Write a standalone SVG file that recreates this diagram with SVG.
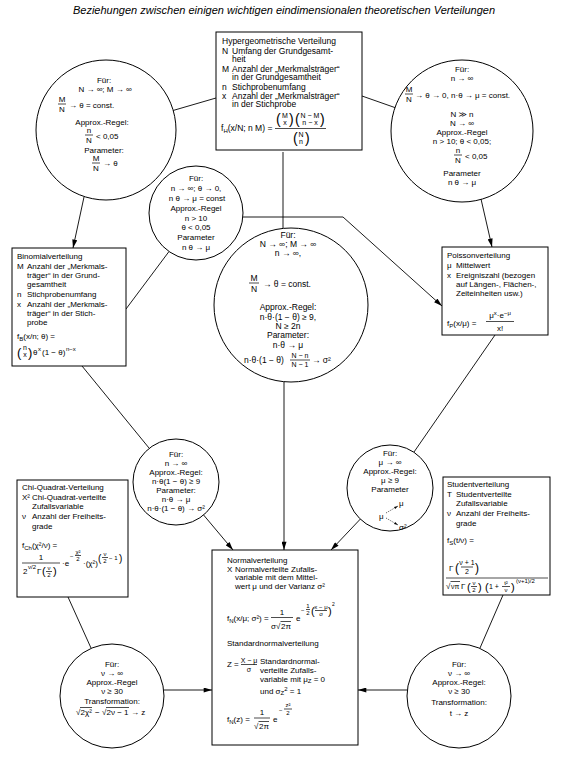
<svg xmlns="http://www.w3.org/2000/svg" width="566" height="768" viewBox="0 0 566 768">
<defs>
<style>
text{font-family:"Liberation Sans",Arial,"DejaVu Sans",sans-serif;font-size:8px;fill:#000}
.h{font-size:8.5px}
.c{text-anchor:middle}
.f{font-size:7px}
.g{font-size:6px}
.p{font-size:14px}
.ttl{font-size:11px;font-style:italic}
.box{fill:#fff;stroke:#000;stroke-width:1}
.circ{fill:#fff;stroke:#000;stroke-width:1}
.e{fill:none;stroke:#000;stroke-width:0.9}
.bar{stroke:#000;stroke-width:0.7}
.dot{stroke:#000;stroke-width:0.7;stroke-dasharray:1 1.2;fill:none}
</style>
<marker id="a" viewBox="0 0 10 6" refX="10" refY="3" markerWidth="9" markerHeight="5" markerUnits="userSpaceOnUse" orient="auto"><path d="M0,0 L10,3 L0,6 z" fill="#000"/></marker>
<marker id="s" viewBox="0 0 10 6" refX="10" refY="3" markerWidth="4" markerHeight="3" markerUnits="userSpaceOnUse" orient="auto"><path d="M0,0 L10,3 L0,6 z" fill="#000"/></marker>
</defs>
<rect width="566" height="768" fill="#fff"/>
<text class="ttl c" x="284" y="14">Beziehungen zwischen einigen wichtigen eindimensionalen theoretischen Verteilungen</text>

<g id="connectors">
<line class="e" x1="216" y1="98" x2="173" y2="110.5"/>
<line class="e" x1="362" y1="96" x2="395" y2="107.6"/>
<line class="e" x1="84" y1="197" x2="73" y2="248" marker-end="url(#a)"/>
<line class="e" x1="481" y1="199" x2="492" y2="247" marker-end="url(#a)"/>
<line class="e" x1="283" y1="152" x2="283" y2="228.5"/>
<polyline class="e" points="243,217 343,217 442,306" marker-end="url(#a)"/>
<line class="e" x1="126" y1="309" x2="169" y2="251.5"/>
<line class="e" x1="82" y1="366" x2="149" y2="448"/>
<line class="e" x1="203.6" y1="515" x2="233" y2="550" marker-end="url(#a)"/>
<line class="e" x1="284" y1="381.5" x2="284" y2="550" marker-end="url(#a)"/>
<line class="e" x1="495" y1="335" x2="414" y2="452"/>
<line class="e" x1="360.4" y1="519" x2="331" y2="550" marker-end="url(#a)"/>
<line class="e" x1="68" y1="597" x2="91" y2="648"/>
<line class="e" x1="164" y1="690" x2="212" y2="690" marker-end="url(#a)"/>
<line class="e" x1="503" y1="595" x2="480" y2="648"/>
<line class="e" x1="407" y1="690" x2="358" y2="690" marker-end="url(#a)"/>
</g>

<g id="hypergeometrisch">
<rect class="box" x="216" y="32" width="146" height="118"/>
<text class="h" x="222" y="44">Hypergeometrische Verteilung</text>
<text class="h" x="222" y="53.5">N</text><text class="h" x="232" y="53.5">Umfang der Grundgesamt-</text>
<text class="h" x="232" y="62">heit</text>
<text class="h" x="222" y="71.5">M</text><text class="h" x="232" y="71.5">Anzahl der „Merkmalsträger“</text>
<text class="h" x="232" y="80">in der Grundgesamtheit</text>
<text class="h" x="222" y="89.5">n</text><text class="h" x="232" y="89.5">Stichprobenumfang</text>
<text class="h" x="222" y="98.5">x</text><text class="h" x="232" y="98.5">Anzahl der „Merkmalsträger“</text>
<text class="h" x="232" y="107">in der Stichprobe</text>
<text class="h" x="221" y="131">f<tspan class="g" dy="2">H</tspan><tspan dy="-2">(x/N; n M) =</tspan></text>
<text class="p" x="276" y="124">(</text>
<text class="f c" x="285" y="118">M</text><text class="f c" x="285" y="125">x</text>
<text class="p" x="289" y="124">)</text>
<text class="p" x="295" y="124">(</text>
<text class="f c" x="310" y="118">N − M</text><text class="f c" x="310" y="125">n − x</text>
<text class="p" x="320" y="124">)</text>
<line class="bar" x1="275" y1="128.5" x2="326" y2="128.5"/>
<text class="p" x="293" y="143">(</text>
<text class="f c" x="301" y="137">N</text><text class="f c" x="301" y="144">n</text>
<text class="p" x="305" y="143">)</text>
</g>

<g id="kreis-hyper-binomial">
<circle class="circ" cx="106" cy="130" r="70"/>
<text class="c" x="104" y="83">Für:</text>
<text class="c" x="105" y="92">N → ∞; M → ∞</text>
<text class="c" x="62" y="102">M</text>
<line class="bar" x1="58" y1="104" x2="66" y2="104"/>
<text class="c" x="62" y="112">N</text>
<text x="69" y="108">→ θ = const.</text>
<text class="c" x="102" y="125">Approx.-Regel:</text>
<text class="c" x="89" y="133">n</text>
<line class="bar" x1="85" y1="135" x2="93" y2="135"/>
<text class="c" x="89" y="143">N</text>
<text x="96" y="139">&lt; 0,05</text>
<text class="c" x="104" y="153">Parameter:</text>
<text class="c" x="96" y="161">M</text>
<line class="bar" x1="92" y1="163" x2="100" y2="163"/>
<text class="c" x="96" y="171">N</text>
<text x="103" y="166">→ θ</text>
</g>

<g id="kreis-hyper-poisson">
<circle class="circ" cx="462" cy="131" r="71"/>
<text class="c" x="462" y="72">Für:</text>
<text class="c" x="462" y="81">n → ∞</text>
<text class="c" x="409" y="92">M</text>
<line class="bar" x1="405" y1="94" x2="413" y2="94"/>
<text class="c" x="409" y="102">N</text>
<text x="415" y="98">→ θ → 0, n·θ → μ = const.</text>
<text class="c" x="462" y="117">N ≫ n</text>
<text class="c" x="462" y="126">N → ∞</text>
<text class="c" x="462" y="135">Approx.-Regel</text>
<text class="c" x="462" y="144">n &gt; 10; θ &lt; 0,05;</text>
<text class="c" x="458" y="153">n</text>
<line class="bar" x1="454" y1="155" x2="462" y2="155"/>
<text class="c" x="458" y="163">N</text>
<text x="465" y="159">&lt; 0,05</text>
<text class="c" x="462" y="176">Parameter</text>
<text class="c" x="462" y="185">n θ → μ</text>
</g>

<g id="kreis-binomial-poisson">
<circle class="circ" cx="196" cy="213" r="47"/>
<text class="c" x="196" y="181">Für:</text>
<text class="c" x="196" y="191">n → ∞; θ → 0,</text>
<text class="c" x="197" y="201">n θ → μ = const</text>
<text class="c" x="196" y="211">Approx.-Regel</text>
<text class="c" x="196" y="221">n &gt; 10</text>
<text class="c" x="196" y="230">θ &lt; 0,05</text>
<text class="c" x="196" y="240">Parameter</text>
<text class="c" x="196" y="250">n θ → μ</text>
</g>

<g id="kreis-hyper-normal">
<circle class="circ" cx="291" cy="305" r="77"/>
<text class="h c" x="288" y="238">Für:</text>
<text class="h c" x="288" y="247">N → ∞; M → ∞</text>
<text class="h c" x="288" y="256">n → ∞,</text>
<text class="h c" x="254" y="281">M</text>
<line class="bar" x1="249" y1="283" x2="259" y2="283"/>
<text class="h c" x="254" y="292">N</text>
<text class="h" x="263" y="287">→ θ = const.</text>
<text class="h c" x="288" y="310">Approx.-Regel:</text>
<text class="h c" x="288" y="320">n·θ·(1 − θ) ≥ 9,</text>
<text class="h c" x="288" y="329">N ≥ 2n</text>
<text class="h c" x="288" y="338">Parameter:</text>
<text class="h c" x="288" y="348">n·θ → μ</text>
<text class="h" x="244" y="363">n·θ·(1 − θ)</text>
<text class="f c" x="300" y="358">N − n</text>
<line class="bar" x1="290" y1="360" x2="310" y2="360"/>
<text class="f c" x="300" y="367">N − 1</text>
<text class="h" x="312" y="363">→ σ²</text>
</g>

<g id="binomial">
<rect class="box" x="12" y="248" width="114" height="118"/>
<text x="17" y="259">Binomialverteilung</text>
<text x="17" y="269">M</text><text x="27" y="269">Anzahl der „Merkmals-</text>
<text x="27" y="278">träger“ in der Grund-</text>
<text x="27" y="287">gesamtheit</text>
<text x="17" y="297">n</text><text x="27" y="297">Stichprobenumfang</text>
<text x="17" y="307">x</text><text x="27" y="307">Anzahl der „Merkmals-</text>
<text x="27" y="316">träger“ in der Stich-</text>
<text x="27" y="325">probe</text>
<text x="17" y="339">f<tspan class="g" dy="2">B</tspan><tspan dy="-2">(x/n; θ) =</tspan></text>
<text style="font-size:13px" x="17" y="357">(</text>
<text class="f c" x="25" y="350">n</text><text class="f c" x="25" y="357">x</text>
<text style="font-size:13px" x="28" y="357">)</text>
<text x="33" y="355">θ</text><text class="g" x="38" y="351">x</text>
<text x="42" y="355">(1 − θ)</text><text class="g" x="66" y="351">n−x</text>
</g>

<g id="poisson">
<rect class="box" x="442" y="247" width="106" height="88"/>
<text x="447" y="258">Poissonverteilung</text>
<text x="447" y="268">μ</text><text x="456" y="268">Mittelwert</text>
<text x="447" y="278">x</text><text x="456" y="278">Ereigniszahl (bezogen</text>
<text x="456" y="287">auf Längen-, Flächen-,</text>
<text x="456" y="296">Zeiteinheiten usw.)</text>
<text x="447" y="326">f<tspan class="g" dy="2">P</tspan><tspan dy="-2">(x/μ) =</tspan></text>
<text class="c" x="500" y="318">μ<tspan class="g" dy="-3">x</tspan><tspan dy="3">·e</tspan><tspan class="g" dy="-3">−μ</tspan></text>
<line class="bar" x1="486" y1="321.5" x2="514" y2="321.5"/>
<text class="c" x="500" y="331">x!</text>
</g>

<g id="kreis-binomial-normal">
<circle class="circ" cx="176" cy="482" r="43"/>
<text class="c" x="176" y="457">Für:</text>
<text class="c" x="176" y="466">n → ∞</text>
<text class="c" x="176" y="475">Approx.-Regel:</text>
<text class="c" x="176" y="484">n·θ(1 − θ) ≥ 9</text>
<text class="c" x="176" y="493">Parameter:</text>
<text class="c" x="176" y="502">n·θ → μ</text>
<text class="c" x="176" y="511">n·θ·(1 − θ) → σ²</text>
</g>

<g id="kreis-poisson-normal">
<circle class="circ" cx="390" cy="488" r="43"/>
<text class="c" x="390" y="456">Für:</text>
<text class="c" x="390" y="465">μ → ∞</text>
<text class="c" x="390" y="474">Approx.-Regel:</text>
<text class="c" x="390" y="483">μ ≥ 9</text>
<text class="c" x="390" y="492">Parameter</text>
<text x="379" y="519">μ</text>
<line class="dot" x1="386" y1="513" x2="398" y2="506" marker-end="url(#s)"/>
<line class="dot" x1="386" y1="518" x2="398" y2="525" marker-end="url(#s)"/>
<text x="399" y="506">μ</text>
<text x="399" y="530">σ²</text>
</g>

<g id="chi-quadrat">
<rect class="box" x="17" y="480" width="111" height="117"/>
<text x="22" y="490">Chi-Quadrat-Verteilung</text>
<text x="22" y="500">X²</text><text x="32" y="500">Chi-Quadrat-verteilte</text>
<text x="32" y="509">Zufallsvariable</text>
<text x="22" y="519">ν</text><text x="32" y="519">Anzahl der Freiheits-</text>
<text x="32" y="529">grade</text>
<text x="22" y="548">f<tspan class="g" dy="2">Ch</tspan><tspan dy="-2">(χ²/ν) =</tspan></text>
<text class="c" x="41" y="560">1</text>
<line class="bar" x1="22" y1="563" x2="60" y2="563"/>
<text x="23" y="574">2</text><text class="g" x="28" y="569">ν/2</text>
<text x="37" y="574">Γ</text>
<text style="font-size:11px" x="42" y="575">(</text>
<text class="g c" x="49" y="570">ν</text>
<line class="bar" x1="46" y1="571.5" x2="52" y2="571.5"/>
<text class="g c" x="49" y="577">2</text>
<text style="font-size:11px" x="53" y="575">)</text>
<text x="62" y="566">·e</text>
<text class="g" x="70" y="558">−</text>
<text class="g c" x="78" y="554">χ²</text>
<line class="bar" x1="75" y1="555.5" x2="81" y2="555.5"/>
<text class="g c" x="78" y="561">2</text>
<text x="83" y="566">·(χ²)</text>
<text style="font-size:10px" x="98" y="562">(</text>
<text class="g c" x="105" y="556">ν</text>
<line class="bar" x1="102" y1="557.5" x2="108" y2="557.5"/>
<text class="g c" x="105" y="563">2</text>
<text class="g" x="109" y="560">− 1</text>
<text style="font-size:10px" x="119" y="562">)</text>
</g>

<g id="student">
<rect class="box" x="443" y="477" width="107" height="118"/>
<text x="447" y="487">Studentverteilung</text>
<text x="447" y="497">T</text><text x="456" y="497">Studentverteilte</text>
<text x="456" y="506">Zufallsvariable</text>
<text x="447" y="516">ν</text><text x="456" y="516">Anzahl der Freiheits-</text>
<text x="456" y="526">grade</text>
<text x="447" y="543">f<tspan class="g" dy="2">S</tspan><tspan dy="-2">(t/ν) =</tspan></text>
<text x="449" y="571">Γ</text>
<text style="font-size:12px" x="455" y="572">(</text>
<text class="f c" x="467" y="565">ν + 1</text>
<line class="bar" x1="461" y1="567" x2="473" y2="567"/>
<text class="f c" x="467" y="574">2</text>
<text style="font-size:12px" x="475" y="572">)</text>
<line class="bar" x1="446" y1="578" x2="548" y2="578"/>
<text x="446" y="589">√</text>
<line class="bar" x1="450.5" y1="581.5" x2="460" y2="581.5"/>
<text class="f" x="451" y="589">νπ</text>
<text x="461" y="589">Γ</text>
<text style="font-size:11px" x="467" y="591">(</text>
<text class="g c" x="474" y="585">ν</text>
<line class="bar" x1="471" y1="586.5" x2="477" y2="586.5"/>
<text class="g c" x="474" y="592">2</text>
<text style="font-size:11px" x="478" y="591">)</text>
<text style="font-size:11px" x="485" y="591">(</text>
<text class="f" x="489" y="589">1 +</text>
<text class="g c" x="506" y="585">t²</text>
<line class="bar" x1="502" y1="586.5" x2="510" y2="586.5"/>
<text class="g c" x="506" y="592">ν</text>
<text style="font-size:11px" x="511" y="591">)</text>
<text class="g" x="516" y="583">(ν+1)/2</text>
</g>

<g id="normal">
<rect class="box" x="212" y="550" width="146" height="195"/>
<text x="227" y="563">Normalverteilung</text>
<text x="227" y="571.5">X</text><text x="235" y="571.5">Normalverteilte Zufalls-</text>
<text x="235" y="580">variable mit dem Mittel-</text>
<text x="235" y="588.5">wert μ und der Varianz σ²</text>
<text x="227" y="621">f<tspan class="g" dy="2">N</tspan><tspan dy="-2">(x/μ; σ²) =</tspan></text>
<text class="c" x="282" y="615">1</text>
<line class="bar" x1="271" y1="617.5" x2="293" y2="617.5"/>
<text x="271" y="629">σ</text>
<text x="276" y="629">√</text>
<line class="bar" x1="280.5" y1="621.5" x2="291" y2="621.5"/>
<text x="281" y="629">2π</text>
<text x="296" y="621">e</text>
<text class="g" x="301" y="612">−</text>
<text class="g c" x="308" y="608">1</text>
<line class="bar" x1="306" y1="609.5" x2="310" y2="609.5"/>
<text class="g c" x="308" y="615">2</text>
<text style="font-size:11px" x="311" y="615">(</text>
<text class="g c" x="321" y="609">x − μ</text>
<line class="bar" x1="315" y1="610.5" x2="327" y2="610.5"/>
<text class="g c" x="321" y="616">σ</text>
<text style="font-size:11px" x="328" y="615">)</text>
<text style="font-size:5px" x="332" y="606">2</text>
<text x="227" y="646">Standardnormalverteilung</text>
<text x="227" y="667">Z =</text>
<text class="f c" x="249" y="662.5">X − μ</text>
<line class="bar" x1="241" y1="664.5" x2="257" y2="664.5"/>
<text class="f c" x="249" y="672">σ</text>
<text x="260" y="664">Standardnormal-</text>
<text x="260" y="673">verteilte Zufalls-</text>
<text x="260" y="682">variable mit μ<tspan class="g" dy="1">Z</tspan><tspan dy="-1"> = 0</tspan></text>
<text x="260" y="694">und σ<tspan class="g" dy="1">Z</tspan><tspan class="g" dy="-4">2</tspan><tspan dy="3"> = 1</tspan></text>
<text x="227" y="722">f<tspan class="g" dy="2">N</tspan><tspan dy="-2">(z) =</tspan></text>
<text class="c" x="262" y="715">1</text>
<line class="bar" x1="254" y1="718" x2="270" y2="718"/>
<text x="254" y="729">√</text>
<line class="bar" x1="258.5" y1="721.5" x2="269" y2="721.5"/>
<text x="259" y="729">2π</text>
<text x="273" y="722">e</text>
<text class="g" x="279" y="712">−</text>
<text class="g c" x="288" y="707">z²</text>
<line class="bar" x1="284" y1="709" x2="292" y2="709"/>
<text class="g c" x="288" y="715">2</text>
</g>

<g id="kreis-chi-normal">
<circle class="circ" cx="112" cy="696" r="52"/>
<text class="c" x="112" y="667">Für:</text>
<text class="c" x="112" y="676">ν → ∞</text>
<text class="c" x="112" y="685">Approx.-Regel</text>
<text class="c" x="112" y="694">ν ≥ 30</text>
<text class="c" x="112" y="704">Transformation:</text>
<text x="76" y="715">√</text>
<line class="bar" x1="80" y1="707.5" x2="92" y2="707.5"/>
<text x="80.5" y="715">2χ²</text>
<text x="95" y="715">−</text>
<text x="102" y="715">√</text>
<line class="bar" x1="106" y1="707.5" x2="129" y2="707.5"/>
<text x="106.5" y="715">2ν − 1</text>
<text x="131" y="715">→ z</text>
</g>

<g id="kreis-student-normal">
<circle class="circ" cx="459" cy="696" r="52"/>
<text class="c" x="459" y="667">Für:</text>
<text class="c" x="459" y="676">ν → ∞</text>
<text class="c" x="459" y="685">Approx.-Regel:</text>
<text class="c" x="459" y="694">ν ≥ 30</text>
<text class="c" x="459" y="705">Transformation:</text>
<text class="c" x="459" y="716">t → z</text>
</g>
</svg>
